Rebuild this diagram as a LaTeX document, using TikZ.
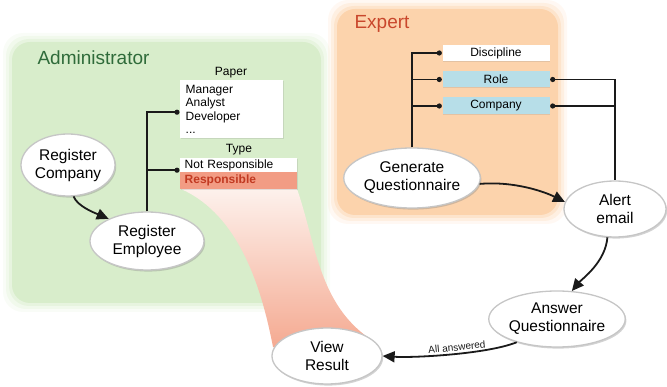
\documentclass[tikz,border=0pt]{standalone}
\usepackage{fontspec}
\setmainfont{Liberation Sans}
\usetikzlibrary{shapes.geometric,arrows.meta,shadows}
\definecolor{pgreen}{HTML}{D8EDCB}
\definecolor{porange}{HTML}{FCD3AC}
\definecolor{admgreen}{HTML}{2F6B3A}
\definecolor{expred}{HTML}{C9472C}
\definecolor{roleblue}{HTML}{B7DEE8}
\definecolor{respfill}{HTML}{F29C84}
\definecolor{resptext}{HTML}{C23A22}
\definecolor{funtop}{HTML}{FDF1EC}
\definecolor{funmid}{HTML}{F7B29C}
\definecolor{funbot}{HTML}{F4A48A}
\definecolor{ink}{HTML}{1A1A1A}
\begin{document}
\begin{tikzpicture}[x=1pt,y=-1pt,
  proc/.style={ellipse, fill=white, draw=gray!45, line width=1.3pt, inner sep=0pt, align=center,
    font=\fontsize{15.5}{18}\selectfont,
    drop shadow={shadow xshift=1.2pt, shadow yshift=-1.6pt, opacity=0.35}},
  box/.style={rectangle, inner sep=1pt, font=\fontsize{12}{13.5}\selectfont,
    drop shadow={shadow xshift=0.8pt, shadow yshift=-0.8pt, opacity=0.2}},
  lbl/.style={font=\fontsize{12}{14}\selectfont},
  title/.style={anchor=west, font=\fontsize{19}{22}\selectfont},
  conn/.style={draw=ink, line width=1.5pt},
  arr/.style={draw=ink, line width=1.8pt, -{Triangle[length=12pt,width=11pt]}},
  dot/.style={fill=ink}]
\useasboundingbox (0,0) rectangle (667,387);

% panels with soft edges
\foreach \k/\o in {9/0.15,6/0.25,3/0.4}{
  \fill[pgreen, opacity=\o, rounded corners=20pt] (12-\k,42-\k) rectangle (321+\k,303+\k);
  \fill[porange, opacity=\o, rounded corners=20pt] (337-\k,9-\k) rectangle (558+\k,215+\k);
}
\fill[pgreen, rounded corners=18pt] (12,42) rectangle (321,303);
\fill[porange, rounded corners=18pt] (337,9) rectangle (558,215);

\node[title, text=admgreen] (admin) at (34,58) {Administrator};
\node[title, text=expred] (expert) at (351,24) {Expert};

% funnel
\shade[top color=funtop, middle color=funmid, bottom color=funbot]
  (181,189) -- (297,189) .. controls (315,240) and (318,300) .. (366,336)
  -- (320,360) -- (273,347) .. controls (262,290) and (240,215) .. (181,189) -- cycle;

% administrator boxes
\node[lbl] (paperlbl) at (231,73) {Paper};
\node[box, fill=white, anchor=north west, minimum width=103, minimum height=58,
      text width=92, align=left] (paper) at (180,80) {Manager\\Analyst\\Developer\\...};
\node[lbl] (typelbl) at (239,150) {Type};
\node[box, fill=white, anchor=north west, minimum width=117, minimum height=14,
      text width=108, align=left] (notresp) at (180,158) {Not Responsible};
\node[box, fill=respfill, anchor=north west, minimum width=117, minimum height=17,
      text width=108, align=left, text=resptext, font=\fontsize{12}{13.5}\selectfont\bfseries] (resp) at (180,172) {Responsible};

% expert boxes
\node[box, fill=white, minimum width=107, minimum height=16] (disc) at (496,53) {Discipline};
\node[box, fill=roleblue, minimum width=107, minimum height=16] (role) at (496,79.5) {Role};
\node[box, fill=roleblue, minimum width=107, minimum height=17] (comp) at (496,106) {Company};

% process ellipses
\node[proc, minimum width=94, minimum height=62] (rc) at (68,165) {Register\\Company};
\node[proc, minimum width=114, minimum height=58] (re) at (147,241) {Register\\Employee};
\node[proc, minimum width=124, minimum height=60] (gq) at (412,178) {Generate\\Questionnaire};
\node[proc, minimum width=102, minimum height=56] (ae) at (615,209) {Alert\\email};
\node[proc, minimum width=128, minimum height=56] (aq) at (557,319) {Answer\\Questionnaire};
\node[proc, minimum width=110, minimum height=56] (vr) at (327,356) {View\\Result};

% administrator connectors
\coordinate (d1) at ([xshift=-3pt,yshift=-3pt]paper.west);
\coordinate (d2) at ([xshift=-3pt,yshift=-5pt]notresp.west);
\draw[conn] (re.north) |- (d1);
\draw[conn] (re.north |- d2) -- (d2);
\fill[dot] (d1) circle (2.6);
\fill[dot] (d2) circle (2.6);

% expert connectors
\coordinate (e1) at ([xshift=-3pt]disc.west);
\coordinate (e2) at ([xshift=-3pt]role.west);
\coordinate (e3) at ([xshift=-3pt]comp.west);
\draw[conn] (gq.north) |- (e1);
\draw[conn] (gq.north |- e2) -- (e2);
\draw[conn] (gq.north |- e3) -- (e3);
\foreach \p in {e1,e2,e3} \fill[dot] (\p) circle (2.6);
\coordinate (r1) at ([xshift=3pt]role.east);
\coordinate (r2) at ([xshift=3pt]comp.east);
\draw[conn] (r1) -| (ae.north);
\draw[conn] (r2) -- (r2 -| ae.north);
\fill[dot] (r1) circle (2.6);
\fill[dot] (r2) circle (2.6);

% flow arrows
\draw[arr] (rc.-80) .. controls +(4,10) and +(-14,-6) .. (re.150);
\draw[arr] (gq.-5) .. controls +(35,-3) and +(-20,-10) .. (ae.172);
\draw[arr] (ae.-105) .. controls +(-2,25) and +(10,-12) .. (aq.62);
\draw[arr] (aq.-150) .. controls +(-30,12) and +(30,2) .. (vr.0)
  node[pos=0.45, above, sloped, font=\fontsize{10}{12}\selectfont, text=ink, inner sep=2pt] (allans) {All answered};
\end{tikzpicture}
\end{document}
